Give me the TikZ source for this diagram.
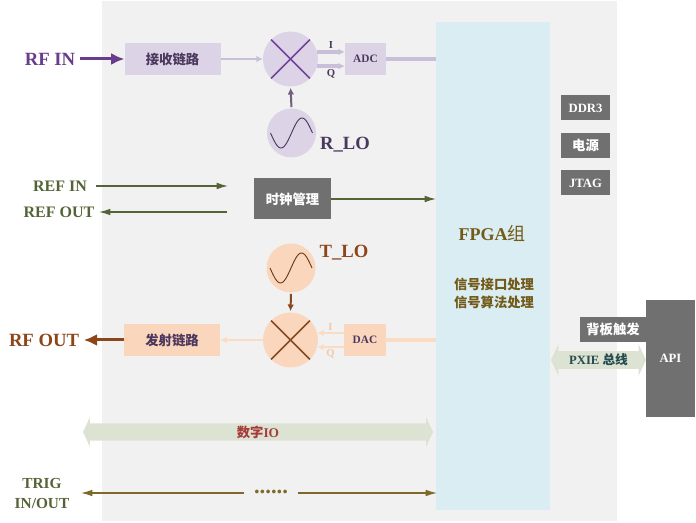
\documentclass[tikz,border=0pt]{standalone}
\usepackage{fontspec}
\setmainfont{Liberation Serif}
\newfontfamily\cjk{Noto Sans CJK SC}
\usepackage{tikz}
\usetikzlibrary{arrows.meta}
\usetikzlibrary{positioning}
\usetikzlibrary{shapes.arrows}
\definecolor{panelgray}{rgb}{0.945, 0.945, 0.945}
\definecolor{fpgablue}{rgb}{0.855, 0.93, 0.953}
\definecolor{rpurple}{rgb}{0.41, 0.235, 0.55}
\definecolor{rcrossc}{rgb}{0.45, 0.26, 0.6}
\definecolor{rfill}{rgb}{0.863, 0.831, 0.902}
\definecolor{rline}{rgb}{0.79, 0.75, 0.86}
\definecolor{rdark}{rgb}{0.3, 0.22, 0.37}
\definecolor{tbrown}{rgb}{0.55, 0.275, 0.1}
\definecolor{tcrossc}{rgb}{0.52, 0.29, 0.13}
\definecolor{tfill}{rgb}{0.98, 0.84, 0.737}
\definecolor{tline}{rgb}{0.98, 0.86, 0.77}
\definecolor{tlight}{rgb}{0.94, 0.79, 0.67}
\definecolor{boxgray}{rgb}{0.44, 0.44, 0.44}
\definecolor{refgreen}{rgb}{0.333, 0.392, 0.216}
\definecolor{iofill}{rgb}{0.867, 0.89, 0.824}
\definecolor{iored}{rgb}{0.647, 0.235, 0.235}
\definecolor{trigolive}{rgb}{0.49, 0.41, 0.157}
\definecolor{fpgatextc}{rgb}{0.45, 0.353, 0.098}
\definecolor{pxieteal}{rgb}{0.137, 0.294, 0.314}

\tikzset{
  plainbox/.style={inner sep=0pt, outer sep=0pt, font=\fontsize{10}{12}\selectfont\bfseries},
  rbox/.style={plainbox, fill=rfill, text=rdark, minimum height=24pt},
  tbox/.style={plainbox, fill=tfill, text=rdark, minimum height=24pt},
  graybox/.style={plainbox, fill=boxgray, text=white},
  mixer/.style={circle, inner sep=0pt, outer sep=0pt, minimum size=41.25pt},
  bigtext/.style={font=\fontsize{14}{16}\selectfont\bfseries},
  iqtext/.style={font=\fontsize{8}{9}\selectfont\bfseries, inner sep=1pt},
  iobar/.style={shape=double arrow, fill=iofill, inner sep=1pt, outer sep=0pt,
    double arrow head extend=4.5pt, double arrow tip angle=130,
    font=\fontsize{10}{12}\selectfont\bfseries},
  bigtip/.tip={Latex[length=10pt, width=9pt]},
  thintip/.tip={Latex[length=8.5pt, width=5pt]},
  smalltip/.tip={Latex[length=5pt, width=5pt]}
}

\begin{document}
\begin{tikzpicture}[x=0.75pt, y=-0.75pt]
    \useasboundingbox (0, 0) rectangle (696, 523);
    \fill [panelgray] (102, 1) rectangle (617, 521);

    \node [plainbox, fill=fpgablue, minimum width=85.5pt, minimum height=366pt] (fpga) at (493, 266) {};
    \node [text=fpgatextc, font=\fontsize{13.5}{16}\selectfont\bfseries] (fpganame) at (492, 233) {FPGA{\cjk\mdseries 组}};
    \node [text=fpgatextc, align=center, font=\fontsize{10}{13.5}\selectfont\bfseries\cjk] (fpgajob) at (494, 293) {信号接口处理\\信号算法处理};

    % receive chain
    \node [bigtext, text=rpurple] (rfin) at (50, 59) {RF IN};
    \node [rbox, minimum width=72pt] (rxchain) at (172.5, 59) {\cjk 接收链路};
    \node [mixer, fill=rfill] (rmix) at (290.5, 59) {};
    \node [rbox, minimum width=30.75pt, font=\fontsize{8.5}{10}\selectfont\bfseries] (adc) at (365.5, 59) {ADC};
    \node [mixer, fill=rfill, minimum size=36.75pt] (rlo) at (291.5, 133) {};
    \node [bigtext, text=rdark] (rlolabel) at (345, 145) {R\_LO};

    \draw [rcrossc, line width=1.3pt] (rmix.45) -- (rmix.225);
    \draw [rcrossc, line width=1.3pt] (rmix.135) -- (rmix.315);
    \draw [rdark, line width=0.7pt, shift={(rlo.center)}] plot [domain=-21:21, samples=40, smooth] (\x, {-15*sin(\x*180/21)});

    \draw [rpurple, line width=2.25pt, -bigtip] (rfin.east) -- (rxchain.west);
    \draw [rline, line width=1.3pt, -smalltip] (rxchain.east) -- (rmix.west);
    \draw [rline, line width=2.6pt, -smalltip] (rmix.15) -- (rmix.15 -| adc.west) node [iqtext, text=rdark, midway, above] {I};
    \draw [rline, line width=2.6pt, -smalltip] (rmix.-15) -- (rmix.-15 -| adc.west) node [iqtext, text=rdark, midway, below] {Q};
    \draw [rline, line width=3pt] (adc.east) -- (adc.east -| fpga.west);
    \draw [rdark!80, line width=1.5pt, -smalltip, shorten <=1pt, shorten >=1pt] (rlo.north) -- (rmix.south);

    % clock
    \node [font=\fontsize{12}{14}\selectfont\bfseries, text=refgreen] (refin) at (60, 186) {REF IN};
    \node [font=\fontsize{12}{14}\selectfont\bfseries, text=refgreen] (refout) at (59, 212) {REF OUT};
    \node [graybox, minimum width=57.75pt, minimum height=30.75pt] (clock) at (292.5, 199) {\cjk 时钟管理};
    \coordinate (refinend) at (228, 186);
    \coordinate (refoutstart) at (227, 212);
    \draw [refgreen, line width=0.9pt, -thintip, shorten <=3pt] (refin.east) -- (refinend);
    \draw [refgreen, line width=0.9pt, -thintip] (refoutstart) -- (refout.east);
    \draw [refgreen, line width=0.9pt, -thintip] (clock.east) -- (clock.east -| fpga.west);

    % transmit chain
    \node [mixer, fill=tfill, minimum size=36.75pt] (tlo) at (291, 268) {};
    \node [bigtext, text=tbrown] (tlolabel) at (344, 253) {T\_LO};
    \node [mixer, fill=tfill] (tmix) at (290.5, 340) {};
    \node [tbox, minimum width=31.5pt, font=\fontsize{8.5}{10}\selectfont\bfseries] (dac) at (365, 340) {DAC};
    \node [tbox, minimum width=72pt] (txchain) at (172, 340) {\cjk 发射链路};
    \node [bigtext, text=tbrown] (rfout) at (44, 340) {RF OUT};

    \draw [tcrossc, line width=1.3pt] (tmix.45) -- (tmix.225);
    \draw [tcrossc, line width=1.3pt] (tmix.135) -- (tmix.315);
    \draw [tcrossc!80!black, line width=0.7pt, shift={(tlo.center)}] plot [domain=-21:21, samples=40, smooth] (\x, {-15*sin(\x*180/21)});

    \draw [tcrossc, line width=1.5pt, -smalltip, shorten <=1pt, shorten >=1pt] (tlo.south) -- (tmix.north);
    \draw [tline, line width=1.5pt, smalltip-] (tmix.15) -- (tmix.15 -| dac.west) node [iqtext, text=tlight, midway, above] {I};
    \draw [tline, line width=1.5pt, smalltip-] (tmix.-15) -- (tmix.-15 -| dac.west) node [iqtext, text=tlight, midway, below] {Q};
    \draw [tline, line width=3pt] (dac.east) -- (dac.east -| fpga.west);
    \draw [tline, line width=1.3pt, -smalltip] (tmix.west) -- (txchain.east);
    \draw [tbrown, line width=2.25pt, -bigtip] (txchain.west) -- (rfout.east);

    % digital io and trigger
    \node [iobar, text=iored, minimum height=262.5pt, minimum width=22.5pt] (digio) at (258, 432) {{\cjk 数字}IO};
    \node [align=center, text=refgreen, font=\fontsize{11.5}{15}\selectfont\bfseries] (trig) at (42, 493) {TRIG\\IN/OUT};
    \node [text=trigolive, minimum width=40.5pt, inner sep=0pt, font=\fontsize{17}{17}\selectfont\bfseries] (dots) at (271, 492) {......};
    \coordinate (trigleft) at (81, 493);
    \coordinate (trigright) at (437, 493);
    \draw [trigolive, line width=1pt, thintip-] (trigleft) -- (trigleft -| dots.west);
    \draw [trigolive, line width=1pt, -thintip] (trigright -| dots.east) -- (trigright);

    % right side
    \node [graybox, minimum width=36.75pt, minimum height=18.75pt, font=\fontsize{9.5}{11}\selectfont\bfseries] (ddr) at (585.5, 108) {DDR3};
    \node [graybox, minimum width=36.75pt, minimum height=18.75pt] (power) at (585.5, 145.5) {\cjk 电源};
    \node [graybox, minimum width=36.75pt, minimum height=18.75pt, font=\fontsize{9.5}{11}\selectfont\bfseries] (jtag) at (585.5, 183) {JTAG};
    \node [graybox, minimum width=36.75pt, minimum height=87.75pt, font=\fontsize{9.5}{11}\selectfont\bfseries] (api) at (670.5, 358.5) {API};
    \node [graybox, minimum width=49.5pt, minimum height=18.75pt] (backtrig) at (613, 329.5) {\cjk 背板触发};
    \node [iobar, text=pxieteal, minimum height=71.25pt, minimum width=24pt, font=\fontsize{9.5}{11}\selectfont\bfseries] (pxie) at (598.5, 360) {PXIE {\cjk 总线}};
  \end{tikzpicture}
\end{document}
